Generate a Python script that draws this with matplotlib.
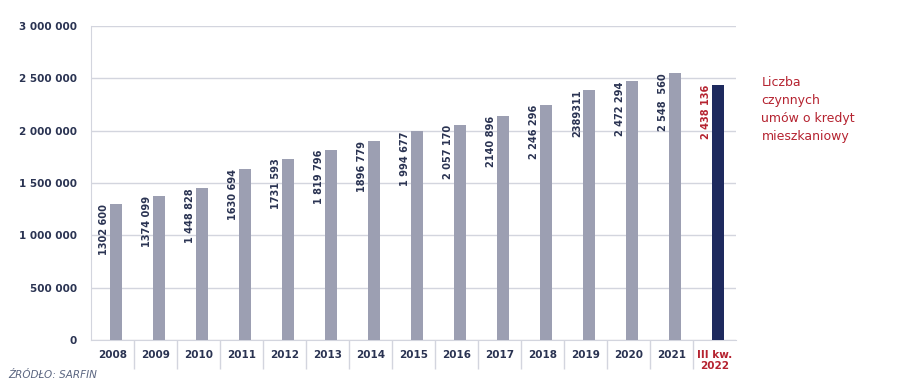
import matplotlib
matplotlib.use("Agg")
import matplotlib.pyplot as plt
from matplotlib.ticker import FuncFormatter, FixedLocator

categories = ["2008", "2009", "2010", "2011", "2012", "2013", "2014", "2015",
              "2016", "2017", "2018", "2019", "2020", "2021", "III kw.\n2022"]
values = [1302600, 1374099, 1448828, 1630694, 1731593, 1819796, 1896779, 1994677,
          2057170, 2140896, 2246296, 2389311, 2472294, 2548560, 2438136]
value_labels = ["1302 600", "1374 099", "1 448 828", "1630 694", "1731 593", "1 819 796",
                "1896 779", "1 994 677", "2 057 170", "2140 896", "2 246 296", "2389311",
                "2 472 294", "2 548  560", "2 438 136"]
yticks = [0, 500000, 1000000, 1500000, 2000000, 2500000, 3000000]
legend_text = "Liczba\nczynnych\numów o kredyt\nmieszkaniowy"
source_text = "ŹRÓDŁO: SARFIN"

GRAY = "#9c9fb2"
NAVY = "#1e2a5e"
RED = "#b52330"
TXT = "#2a3352"
GRID = "#d3d5de"

plt.rcParams['font.family'] = ['DejaVu Sans']

fig = plt.figure(figsize=(9, 3.92), dpi=100)
ax = fig.add_axes([0.101, 0.1327, 0.717, 0.801])

x = list(range(len(categories)))
colors = [GRAY] * (len(categories) - 1) + [NAVY]
ax.bar([i + 0.08 for i in x], values, width=0.28, color=colors, zorder=3)

for i, (v, lab) in enumerate(zip(values, value_labels)):
    c = RED if i == len(values) - 1 else TXT
    ax.text(i - 0.2, v, lab, rotation=90, ha='center', va='top', fontsize=7.8,
            fontweight='bold', color=c, fontstretch='condensed', zorder=4)

ax.set_xlim(-0.5, len(categories) - 0.5)
ax.set_ylim(0, 3000000)
ax.yaxis.set_major_locator(FixedLocator(yticks))
ax.yaxis.set_major_formatter(FuncFormatter(lambda v, p: f"{int(v):,}".replace(",", " ")))
ax.grid(axis='y', color=GRID, linewidth=1.0, zorder=0)

ax.set_xticks(x)
ax.set_xticklabels(categories, fontsize=7.5, fontweight='bold', color=TXT)
ax.get_xticklabels()[-1].set_color(RED)
ax.tick_params(axis='x', which='major', length=0, pad=7)
ax.set_xticks([i + 0.5 for i in range(len(categories) - 1)], minor=True)
ax.tick_params(axis='x', which='minor', length=21, color=GRID, width=1.0, direction='out')
ax.tick_params(axis='y', length=0, labelsize=7.5, labelcolor=TXT, pad=10)
for lbl in ax.get_yticklabels():
    lbl.set_fontweight('bold')

for s in ['top', 'right']:
    ax.spines[s].set_visible(False)
ax.spines['left'].set_color(GRID)
ax.spines['bottom'].set_color(GRID)

fig.text(0.846, 0.805, legend_text, fontsize=9, color=RED, va='top', ha='left',
         linespacing=1.5)
fig.text(0.009, 0.03, source_text, fontsize=7.5, color="#5a6580", style='italic',
         ha='left', va='bottom')

fig.savefig("out.png", dpi=100)
